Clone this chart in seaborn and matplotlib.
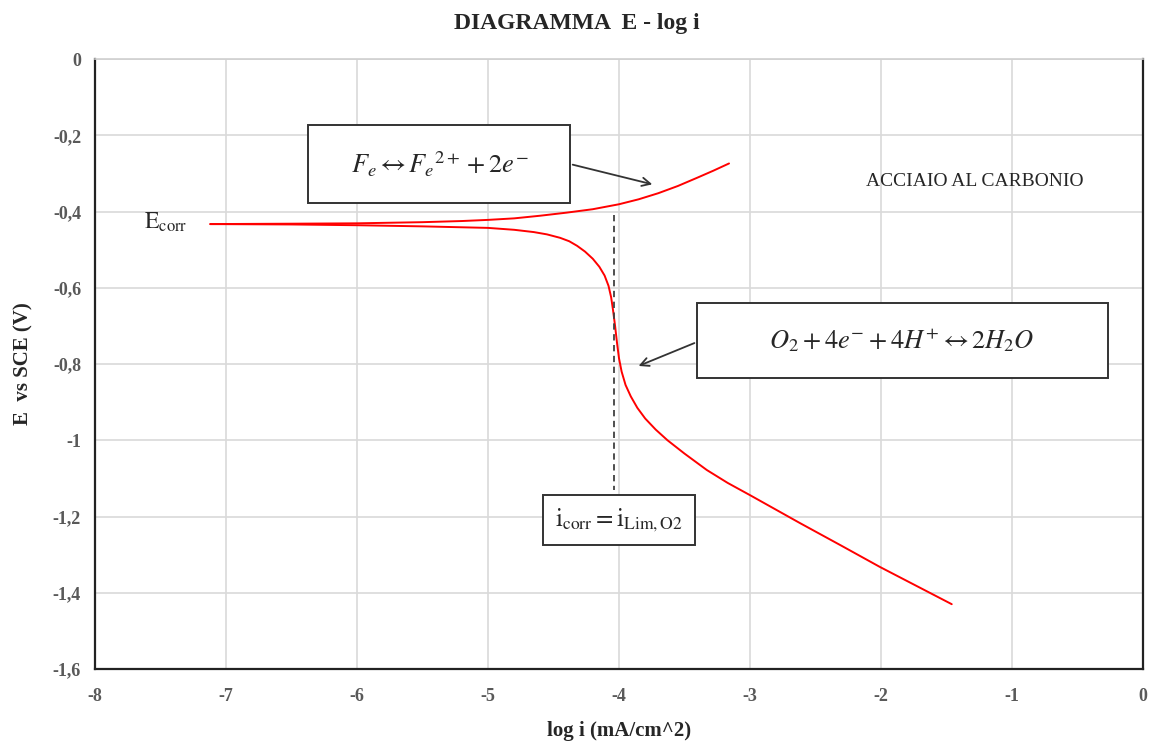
import matplotlib
matplotlib.use("Agg")
import matplotlib.pyplot as plt
import seaborn as sns
import pandas as pd
from matplotlib.patches import FancyArrowPatch, Rectangle

# ---- data ----
anodic_logi = [-7.12, -6.5, -6.0, -5.5, -5.2, -5.0, -4.8, -4.6, -4.4, -4.2, -4.0, -3.85, -3.7, -3.55, -3.4, -3.28, -3.16]
anodic_E = [-0.433, -0.432, -0.431, -0.428, -0.425, -0.422, -0.418, -0.411, -0.403, -0.394, -0.381, -0.368,
            -0.352, -0.333, -0.311, -0.293, -0.274]

cathodic_logi = [-7.12, -6.5, -6.0, -5.5, -5.0, -4.8, -4.65, -4.55, -4.45, -4.38, -4.32, -4.26, -4.2, -4.15,
                 -4.11, -4.08, -4.06, -4.045, -4.03, -4.015, -4.0, -3.98, -3.95, -3.91, -3.86, -3.80, -3.72,
                 -3.63, -3.5, -3.33, -3.17, -3.0, -2.62, -2.3, -2.01, -1.46]
cathodic_E = [-0.433, -0.434, -0.436, -0.439, -0.443, -0.448, -0.454, -0.460, -0.469, -0.478, -0.490, -0.505,
              -0.524, -0.545, -0.568, -0.595, -0.625, -0.66, -0.70, -0.745, -0.785, -0.82, -0.855, -0.885,
              -0.915, -0.943, -0.972, -1.0, -1.035, -1.078, -1.112, -1.144, -1.217, -1.277, -1.332, -1.43]

icorr_logi = -4.04
icorr_E_range = [-0.41, -1.13]

x_ticks = [-8, -7, -6, -5, -4, -3, -2, -1, 0]
x_tick_labels = ["-8", "-7", "-6", "-5", "-4", "-3", "-2", "-1", "0"]
y_ticks = [0, -0.2, -0.4, -0.6, -0.8, -1.0, -1.2, -1.4, -1.6]
y_tick_labels = ["0", "-0,2", "-0,4", "-0,6", "-0,8", "-1", "-1,2", "-1,4", "-1,6"]

title = "DIAGRAMMA  E - log i"
x_label = "log i (mA/cm^2)"
y_label = "E  vs SCE (V)"

sns.set_theme(style="whitegrid")
plt.rcParams['font.family'] = ['Liberation Serif', 'DejaVu Serif']
plt.rcParams['mathtext.fontset'] = 'stix'

fig = plt.figure(figsize=(11.56, 7.47), dpi=100)
ax = fig.add_axes([95 / 1156, 1 - 669 / 747, (1143 - 95) / 1156, (669 - 59) / 747])

df_a = pd.DataFrame({"logi": anodic_logi, "E": anodic_E})
df_c = pd.DataFrame({"logi": cathodic_logi, "E": cathodic_E})
sns.lineplot(data=df_a, x="logi", y="E", sort=False, color="#ff0000", lw=1.4, ax=ax)
sns.lineplot(data=df_c, x="logi", y="E", sort=False, color="#ff0000", lw=1.4, ax=ax)
ax.plot([icorr_logi, icorr_logi], icorr_E_range, color="#404040", lw=1.3, ls=(0, (3.5, 2.5)))

ax.set_xlim(-8, 0)
ax.set_ylim(-1.6, 0)
ax.set_xticks(x_ticks)
ax.set_xticklabels(x_tick_labels)
ax.set_yticks(y_ticks)
ax.set_yticklabels(y_tick_labels)
ax.grid(True, color="#d9d9d9", lw=1.2)
for lab in ax.get_xticklabels() + ax.get_yticklabels():
    lab.set_fontweight("bold")
    lab.set_fontsize(13)
    lab.set_color("#595959")
ax.tick_params(axis="x", pad=14, length=0)
ax.tick_params(axis="y", pad=10, length=0)

for side in ["left", "right", "bottom"]:
    ax.spines[side].set_color("#222222")
    ax.spines[side].set_linewidth(1.6)
ax.spines["top"].set_color("#d0d0d0")
ax.spines["top"].set_linewidth(1.2)

ax.set_xlabel(x_label, fontsize=15, fontweight="bold", labelpad=11)
ax.set_ylabel(y_label, fontsize=15, fontweight="bold", labelpad=14)
fig.text(577 / 1156, 1 - 23 / 747, title, ha="center", va="center", fontsize=17, fontweight="bold")


def px2data(px, py):
    return (-8 + (px - 95) / 131.0, -(py - 59) / 381.25)


def draw_box(x0, y0, x1, y1):
    (dx0, dy0) = px2data(x0, y0)
    (dx1, dy1) = px2data(x1, y1)
    ax.add_patch(Rectangle((dx0, dy1), dx1 - dx0, dy0 - dy1, fc="white", ec="#333333", lw=1.4, zorder=5))


draw_box(308, 125, 570, 203)
ax.text(*px2data(440, 164), r'$F_e \leftrightarrow {F_e}^{2+} + 2e^{-}$', fontsize=19,
        ha="center", va="center", zorder=6)
ax.add_patch(FancyArrowPatch(px2data(570, 164), px2data(655, 185), arrowstyle="->,head_length=6,head_width=3",
                             color="#333333", lw=1.3, zorder=6))

draw_box(697, 303, 1108, 378)
ax.text(*px2data(902, 340), r'$O_2 + 4e^{-} + 4H^{+} \leftrightarrow 2H_2O$', fontsize=19,
        ha="center", va="center", zorder=6)
ax.add_patch(FancyArrowPatch(px2data(697, 342), px2data(636, 367), arrowstyle="->,head_length=6,head_width=3",
                             color="#333333", lw=1.3, zorder=6))

draw_box(543, 495, 695, 545)
ax.text(*px2data(619, 520), r'$\mathrm{i_{corr}} = \mathrm{i_{Lim,O2}}$', fontsize=18,
        ha="center", va="center", zorder=6)

ax.text(*px2data(166, 222), r'$\mathrm{E_{corr}}$', fontsize=17, ha="center", va="center")
ax.text(*px2data(975, 182), "ACCIAIO AL CARBONIO", fontsize=14, ha="center", va="center")

fig.savefig("out.png", dpi=100)
